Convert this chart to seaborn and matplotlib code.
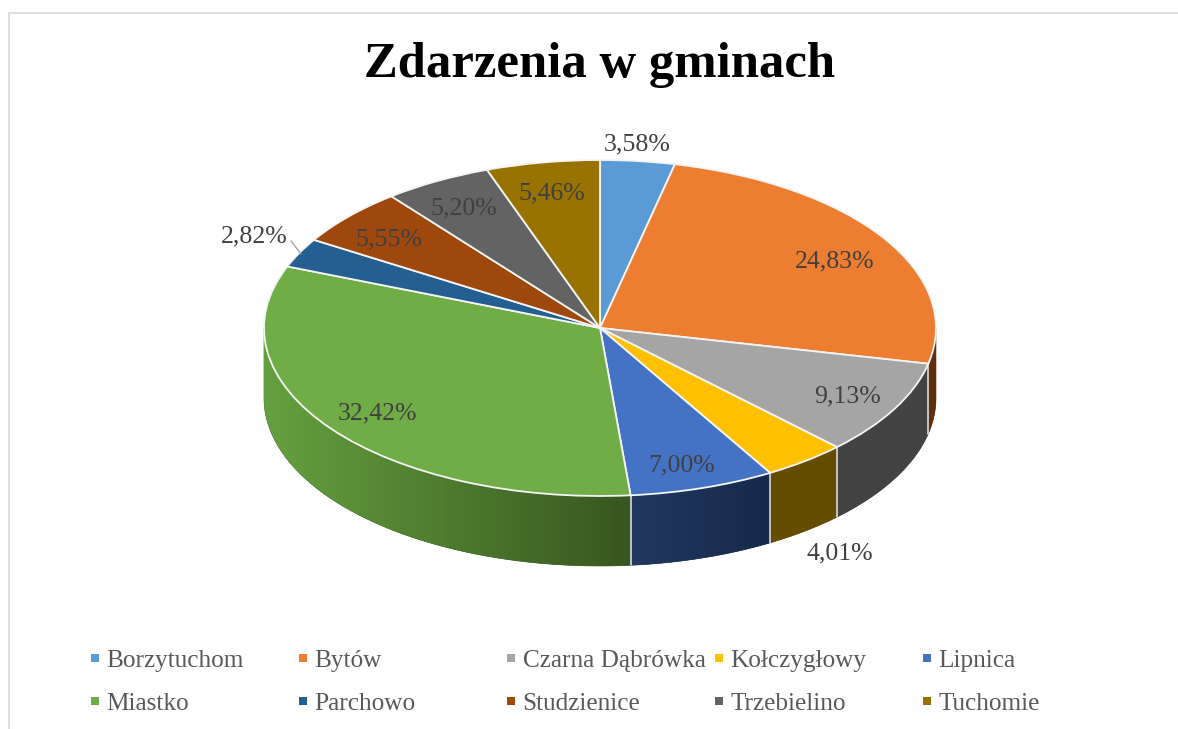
import numpy as np
import matplotlib
matplotlib.use("Agg")
import matplotlib.pyplot as plt
from matplotlib.colors import to_rgb
from matplotlib.lines import Line2D
from matplotlib.patches import Polygon
import seaborn as sns

gminy = ["Borzytuchom", "Bytów", "Czarna Dąbrówka", "Kołczygłowy", "Lipnica",
         "Miastko", "Parchowo", "Studzienice", "Trzebielino", "Tuchomie"]
udzialy = [3.58, 24.83, 9.13, 4.01, 7.00, 32.42, 2.82, 5.55, 5.20, 5.46]
tytul = "Zdarzenia w gminach"
kolory = ["#5B9BD5", "#ED7D31", "#A5A5A5", "#FFC000", "#4472C4",
          "#70AD47", "#255E91", "#9E480E", "#636363", "#997300"]
# gradient of the side wall (left end, right end), in wedge order
sciana = {1: ("#5F2F0E", "#5F2F0E"), 2: ("#434343", "#434343"),
          3: ("#654D00", "#654D00"), 4: ("#22385F", "#16294B"),
          5: ("#65A03F", "#38561F")}
# label centres in image pixels (layout)
etykiety_px = [(637, 144), (835, 261), (848, 396), (840, 553), (682, 465),
               (378, 413), (254, 236), (389, 239), (464, 208), (552, 193)]

W, H = 1178, 729
CX, CY, RX, RY, DEPTH = 600, 328, 336, 168, 70

sns.set_theme(style="white")
plt.rcParams["font.family"] = ["Liberation Serif", "DejaVu Serif"]
paleta = sns.color_palette(kolory)

fig = plt.figure(figsize=(W / 100, H / 100), dpi=100, facecolor="white")
ax = fig.add_axes([0, 0, 1, 1])


def px(x, y):
    return (x - CX) / RX, (CY - y) / RY


grani = np.cumsum([0] + udzialy) * 3.6
d = DEPTH / RY

# side wall: a horizontal gradient clipped to each wedge's outline
for i, (c_l, c_r) in sciana.items():
    a0, a1 = max(grani[i], 90), min(grani[i + 1], 270)
    t = np.radians(np.linspace(a0, a1, 200))
    xs, ys = np.sin(t), np.cos(t)
    kontur = np.vstack([np.c_[xs, ys], np.c_[xs, ys - d][::-1]])
    ksztalt = Polygon(kontur, closed=True, facecolor=c_r, edgecolor=c_r,
                      linewidth=0.4, zorder=1)
    ax.add_patch(ksztalt)
    f = np.linspace(0, 1, 256)[:, None]
    grad = ((1 - f) * np.array(to_rgb(c_l)) + f * np.array(to_rgb(c_r)))[None, :, :]
    obraz = ax.imshow(grad, extent=(xs.min(), xs.max(), (ys - d).min(), ys.max()),
                      aspect="auto", zorder=1.5, interpolation="bilinear")
    obraz.set_clip_path(ksztalt)
for a in grani[2:6]:
    t = np.radians(a)
    ax.plot([np.sin(t)] * 2, [np.cos(t), np.cos(t) - d], color="#E8E8E8", lw=1.1, zorder=2)

# top
ax.pie(udzialy, colors=paleta, startangle=90, counterclock=False, radius=1,
       wedgeprops=dict(edgecolor="#F4F4F4", linewidth=1.3, zorder=3), normalize=True)

ax.set_aspect("auto")
ax.set_xlim(-CX / RX, (W - CX) / RX)
ax.set_ylim((CY - H) / RY, CY / RY)
ax.axis("off")

for v, (x, y) in zip(udzialy, etykiety_px):
    ax.text(*px(x, y), f"{v:.2f}%".replace(".", ","), ha="center", va="center",
            fontsize=18.6, color="#404040", zorder=5)
ax.plot(*zip(px(291, 241), px(301, 254)), color="#A6A6A6", lw=1.0, zorder=4)

fig.text(600 / W, 1 - 65 / H, tytul, ha="center", va="center", fontsize=36.5,
         fontweight="bold", color="black")

# frame
fig.add_artist(Line2D([8.5 / W, 8.5 / W, 1], [0, 1 - 13 / H, 1 - 13 / H],
                      color="#D9D9D9", lw=1.2))

# legend, one fixed-width column at a time
kol_x = [89, 297, 505, 713, 921]
for k, x0 in enumerate(kol_x):
    uchwyty = [Line2D([], [], ls="none", marker="s", ms=6, color=paleta[i], mew=0)
               for i in (k, k + 5)]
    fig.legend(uchwyty, [gminy[k], gminy[k + 5]], loc="upper left",
               bbox_to_anchor=(x0 / W, 1 - 649 / H), frameon=False, fontsize=18.2,
               labelcolor="#595959", borderpad=0, borderaxespad=0,
               handlelength=0.5, handletextpad=0.2, labelspacing=0.82)

fig.savefig("out.png", dpi=100, facecolor="white")
